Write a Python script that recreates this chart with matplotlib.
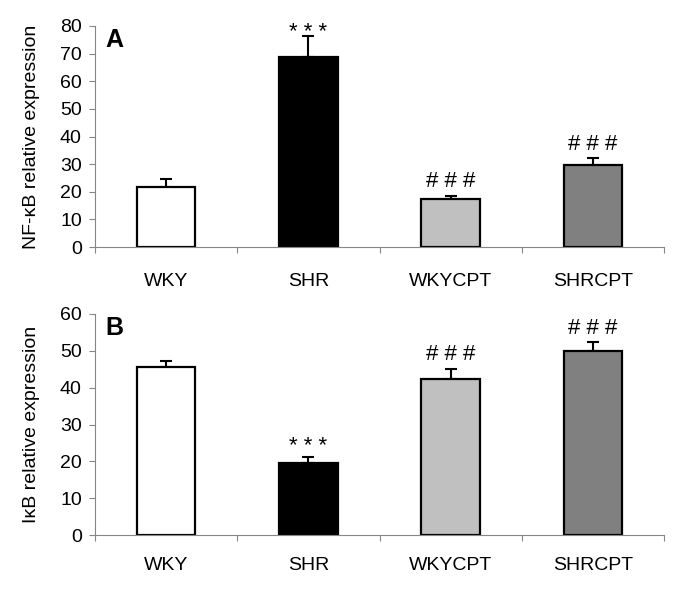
import matplotlib
matplotlib.use("Agg")
import matplotlib.pyplot as plt
import numpy as np

groups = ["WKY", "SHR", "WKYCPT", "SHRCPT"]
bar_colors = ["#ffffff", "#000000", "#c0c0c0", "#808080"]

# panel A: NF-kB
nfkb_mean = [21.7, 68.7, 17.4, 29.7]
nfkb_err = [2.9, 7.5, 1.2, 2.4]
nfkb_marks = ["", "* * *", "# # #", "# # #"]

# panel B: IkB
ikb_mean = [45.6, 19.6, 42.3, 50.0]
ikb_err = [1.7, 1.5, 2.9, 2.3]
ikb_marks = ["", "* * *", "# # #", "# # #"]

plt.rcParams["font.family"] = ["Liberation Sans", "DejaVu Sans"]

fig = plt.figure(figsize=(6.85, 5.99), dpi=100)
ax_a = fig.add_axes([0.1387, 0.5876, 0.8307, 0.3690])
ax_b = fig.add_axes([0.1387, 0.1068, 0.8307, 0.3690])


def draw_panel(ax, means, errs, marks, ymax, ylabel, letter, xpad, star_off):
    x = np.arange(len(groups)) + 0.5
    ax.bar(x, means, width=0.41, color=bar_colors, edgecolor="black",
           linewidth=1.6, zorder=2)
    ax.errorbar(x, means, yerr=[np.zeros(len(errs)), errs], fmt="none",
                ecolor="black", elinewidth=1.5, capsize=4.5, capthick=1.5,
                zorder=1)
    for xi, m, e, t in zip(x, means, errs, marks):
        if not t:
            continue
        off = star_off if "*" in t else 6
        ax.annotate(t, (xi, m + e), xytext=(0, off), textcoords="offset points",
                    ha="center", va="baseline", fontsize=16)

    ax.set_xlim(0, len(groups))
    ax.set_ylim(0, ymax)
    ax.set_yticks(np.arange(0, ymax + 1, 10))
    ax.set_xticks(np.arange(len(groups) + 1))
    ax.set_xticklabels([])
    ax.set_xticks(x, minor=True)
    ax.set_xticklabels(groups, minor=True)
    ax.tick_params(axis="x", which="major", length=4, width=0.8,
                   color="#868686")
    ax.tick_params(axis="x", which="minor", length=0, pad=xpad, labelsize=14)
    ax.tick_params(axis="y", length=4.5, width=0.8, color="#868686",
                   labelsize=14, pad=5)
    for s in ["top", "right"]:
        ax.spines[s].set_visible(False)
    for s in ["left", "bottom"]:
        ax.spines[s].set_color("#868686")
        ax.spines[s].set_linewidth(0.8)
    ax.set_ylabel(ylabel, fontsize=14)
    ax.yaxis.set_label_coords(-0.097, 0.5)
    ax.text(0.019, 0.905, letter, transform=ax.transAxes, fontsize=18,
            fontweight="bold", va="baseline")


draw_panel(ax_a, nfkb_mean, nfkb_err, nfkb_marks, 80,
           "NF-\u03baB relative expression", "A", 18.5, -1)
draw_panel(ax_b, ikb_mean, ikb_err, ikb_marks, 60,
           "I\u03baB relative expression", "B", 15.5, 4)

fig.savefig("out.png", dpi=100)
